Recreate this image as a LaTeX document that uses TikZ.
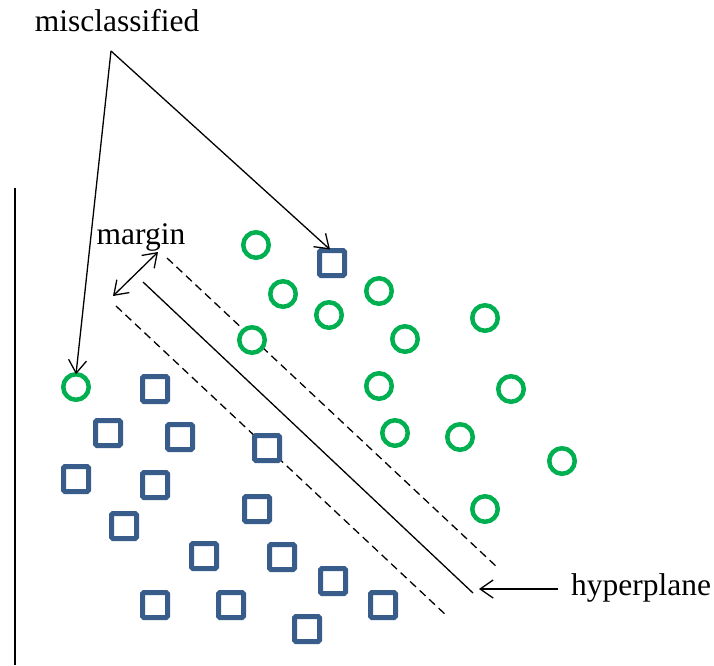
\documentclass[tikz,border=0pt]{standalone}
\usepackage{fontspec}
\setmainfont{Liberation Serif}
\usetikzlibrary{arrows.meta}
\definecolor{ptgreen}{RGB}{0,176,80}
\definecolor{ptblue}{RGB}{56,93,138}
\tikzset{
  grn/.style={circle,draw=ptgreen,fill=white,line width=4.5pt,minimum size=25.5pt,inner sep=0pt,outer sep=0pt},
  blu/.style={rectangle,draw=ptblue,fill=white,line width=5pt,minimum size=25pt,inner sep=0pt,rounded corners=1.5pt,outer sep=2pt},
  lbl/.style={font=\fontsize{31.5}{36}\selectfont,inner sep=0pt},
  pointer/.style={line width=1.3pt,-{Straight Barb[length=13pt,width=18pt,line width=1.3pt]}},
  dbl/.style={line width=1.3pt,{Straight Barb[length=13pt,width=18pt,line width=1.3pt]}-{Straight Barb[length=13pt,width=18pt,line width=1.3pt]}},
  marginline/.style={line width=1.3pt,dash pattern=on 8pt off 5pt},
  hypline/.style={line width=1.3pt}
}
\begin{document}
\begin{tikzpicture}[x=1pt,y=-1pt]
\useasboundingbox (0,0) rectangle (714,665);
% axis
\coordinate (ax1) at (15,188);
\coordinate (ax2) at (15,665);
\draw[line width=1.5pt] (ax1) -- (ax2);
% lines (behind the markers)
\coordinate (d1a) at (167,258);
\coordinate (d1b) at (498,568);
\coordinate (hpa) at (143,282);
\coordinate (hpb) at (473,593);
\coordinate (d2a) at (116,306);
\coordinate (d2b) at (447,616);
\draw[marginline] (d1a) -- (d1b);
\draw[hypline] (hpa) -- (hpb);
\draw[marginline] (d2a) -- (d2b);
% circles
\node[grn] (c0) at (76,387) {};
\node[grn] (c1) at (256,245) {};
\node[grn] (c2) at (283,294) {};
\node[grn] (c3) at (379,291) {};
\node[grn] (c4) at (329,315) {};
\node[grn] (c5) at (252,340) {};
\node[grn] (c6) at (405,339) {};
\node[grn] (c7) at (485,318) {};
\node[grn] (c8) at (379,386) {};
\node[grn] (c9) at (511,389) {};
\node[grn] (c10) at (395,433) {};
\node[grn] (c11) at (460,437) {};
\node[grn] (c12) at (562,461) {};
\node[grn] (c13) at (485,509) {};
% squares
\node[blu] (s0) at (332,263) {};
\node[blu] (s1) at (155,389) {};
\node[blu] (s2) at (108,433) {};
\node[blu] (s3) at (180,437) {};
\node[blu] (s4) at (267,448) {};
\node[blu] (s5) at (76,479) {};
\node[blu] (s6) at (155,485) {};
\node[blu] (s7) at (257,509) {};
\node[blu] (s8) at (124,526) {};
\node[blu] (s9) at (204,556) {};
\node[blu] (s10) at (282,557) {};
\node[blu] (s11) at (333,581) {};
\node[blu] (s12) at (155,605) {};
\node[blu] (s13) at (231,605) {};
\node[blu] (s14) at (307,629) {};
\node[blu] (s15) at (383,605) {};
% labels
\node[lbl] (mis) at (117,21) {misclassified};
\node[lbl] (mar) at (141,237) {margin};
\node[lbl,anchor=west] (hyp) at (571,588) {hyperplane};
% misclassified arrows
\coordinate (apex) at (111,51);
\draw[pointer] (apex) -- (c0.north);
\draw[pointer] (apex) -- ([xshift=-2pt,yshift=-1pt]s0.north);
% margin arrow
\coordinate (m1) at (113,296);
\coordinate (m2) at (158,252);
\draw[dbl] (m1) -- (m2);
% hyperplane arrow
\draw[pointer] ([xshift=-13pt,yshift=-1pt]hyp.west) -- ++(-79pt,0pt);
\end{tikzpicture}
\end{document}
